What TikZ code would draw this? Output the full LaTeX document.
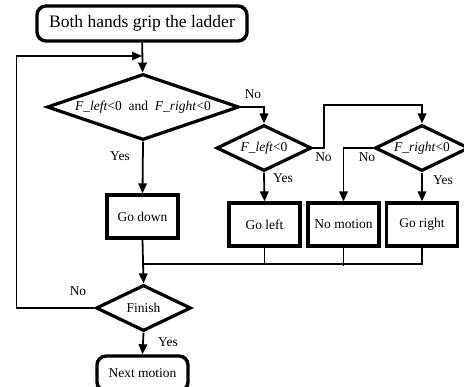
\documentclass[tikz,border=0pt]{standalone}
\usepackage{fontspec}
\setmainfont{Liberation Serif}
\usepackage{tikz}
\usetikzlibrary{shapes.geometric,arrows.meta}

\begin{document}
\begin{tikzpicture}[x=1pt, y=-1pt,
	every node/.style={font=\fontsize{13.5}{16}\selectfont},
	terminal/.style={draw, line width=3.4pt, rounded corners=9pt, inner sep=0pt},
	actbox/.style={draw, line width=3.2pt, inner sep=0pt, minimum width=71pt, minimum height=43pt},
	test/.style={draw, diamond, line width=3.2pt, inner sep=0pt, aspect=2.07},
	flow/.style={line width=1.8pt},
	arr/.style={flow, -{Triangle[length=10pt, width=8.5pt]}},
	answer/.style={inner sep=0pt}]
			\useasboundingbox (0,0) rectangle (464,387);
			\clip (0,0) rectangle (464,387);
			\begin{scope}
				\node[terminal, minimum width=210pt, minimum height=35pt, font=\fontsize{17.5}{20}\selectfont] (start) at (142,23.5) {Both hands grip the ladder};
				\node[test, aspect=2.9, minimum width=192pt, minimum height=66pt] (both) at (143,107) {\textit{F\_left}<0\ \ and\ \ \textit{F\_right}<0};
				\node[test, minimum width=95pt, minimum height=46pt] (left) at (264,148) {\textit{F\_left}<0};
				\node[test, minimum width=94pt, minimum height=46pt] (right) at (422,148) {\textit{F\_right}<0};

				\node[actbox] (down) at (142.5,216.5) {Go down};
				\node[actbox] (goleft) at (264.5,224.5) {Go left};
				\node[actbox] (stay) at (343.5,224.5) {No motion};
				\node[actbox] (goright) at (422,224.5) {Go right};

				\node[test, minimum width=95pt, minimum height=46pt] (finish) at (143.5,308) {Finish};
				\node[terminal, minimum width=91pt, minimum height=35pt] (next) at (142.5,373.5) {Next motion};

				\coordinate (loopin) at (142,56); % back into the first test
				\coordinate (jog) at (324,105);
				\coordinate (merge) at (142,264);

				\draw[arr] (start) -- (both);
				\draw[arr] (finish.west) -- ++(-78,0) |- (loopin); % No: try again
				\draw[arr] (both.east) -| (left.north);
				\draw[arr] (left.east) -| (jog) -| (right.north);
				\draw[arr] (right.west) -| (stay.north);
				\draw[arr] (both.south) -- (down.north);
				\draw[arr] (left.south) -- (goleft.north);
				\draw[arr] (right.south) -- (goright.north);

				\draw[arr] (down.south) -- (finish.north);
				\draw[flow] (goleft.south) |- (merge);
				\draw[flow] (stay.south) -- ++(0,18);
				\draw[flow] (goright.south) |- (merge);
				\draw[arr] (finish.south) -- (next.north);

				\node[answer] (no1) at (253,94) {No};
				\node[answer] (yes1) at (120,156) {Yes};
				\node[answer] (no2) at (323.5,157) {No};
				\node[answer] (yes2) at (283,178) {Yes};
				\node[answer] (no3) at (367,157) {No};
				\node[answer] (yes3) at (443,180) {Yes};
				\node[answer] (no4) at (78,291) {No};
				\node[answer] (yes4) at (168,342) {Yes};
			\end{scope}
\end{tikzpicture}
\end{document}
